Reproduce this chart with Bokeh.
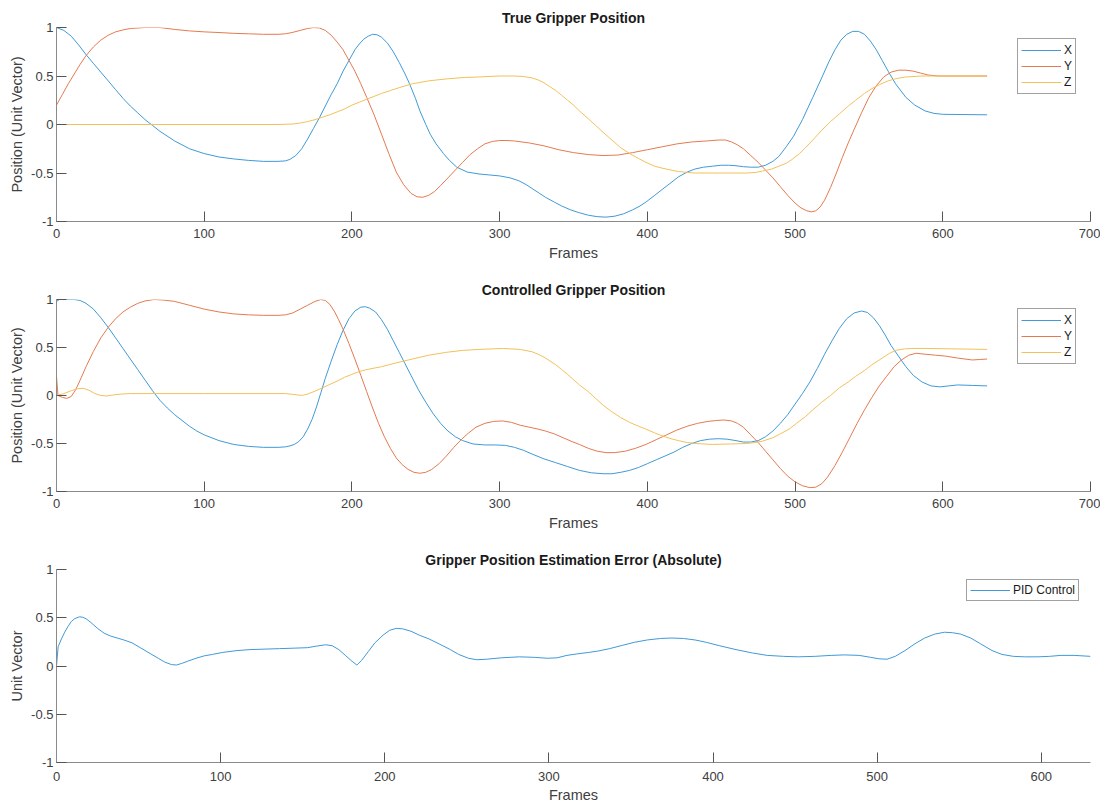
from bokeh.plotting import figure
from bokeh.layouts import column
from bokeh.models import Range1d, FixedTicker
from bokeh.embed import file_html
from bokeh.resources import INLINE

# ---------------- data: (frame, value) pairs ----------------
true_x = [(0, 1.0), (5, 0.97), (10, 0.91), (15, 0.82), (20, 0.72), (25, 0.63), (30, 0.54), (35, 0.45), (40, 0.36),
          (45, 0.27), (50, 0.19), (55, 0.12), (60, 0.05), (65, -0.01), (70, -0.07), (80, -0.17), (90, -0.25),
          (100, -0.3), (110, -0.335), (120, -0.355), (130, -0.37), (140, -0.38), (150, -0.38), (155, -0.375),
          (158, -0.36), (162, -0.32), (166, -0.25), (170, -0.15), (174, -0.04), (178, 0.07), (182, 0.19),
          (186, 0.31), (190, 0.42), (194, 0.55), (198, 0.66), (202, 0.77), (205, 0.83), (208, 0.88), (211, 0.91),
          (214, 0.93), (217, 0.925), (220, 0.9), (224, 0.84), (228, 0.75), (232, 0.64), (236, 0.52), (239, 0.42),
          (243, 0.27), (246, 0.14), (250, 0.0), (253, -0.1), (257, -0.2), (262, -0.3), (266, -0.37), (271, -0.44),
          (278, -0.49), (286, -0.51), (293, -0.52), (300, -0.53), (307, -0.55), (313, -0.58), (318, -0.62),
          (322, -0.66), (327, -0.71), (331, -0.75), (337, -0.8), (342, -0.84), (348, -0.88), (354, -0.91),
          (360, -0.935), (366, -0.95), (372, -0.955), (378, -0.945), (384, -0.92), (390, -0.88), (395, -0.84),
          (399, -0.8), (405, -0.73), (410, -0.67), (416, -0.6), (421, -0.54), (427, -0.49), (432, -0.46),
          (438, -0.44), (444, -0.43), (450, -0.42), (455, -0.42), (460, -0.425), (465, -0.435), (470, -0.44),
          (475, -0.44), (480, -0.42), (485, -0.38), (489, -0.33), (494, -0.23), (499, -0.12), (505, 0.05),
          (512, 0.28), (518, 0.48), (523, 0.65), (527, 0.77), (531, 0.87), (535, 0.93), (539, 0.96), (543, 0.96),
          (547, 0.93), (551, 0.86), (555, 0.77), (559, 0.66), (563, 0.55), (568, 0.42), (575, 0.28), (581, 0.2),
          (588, 0.14), (594, 0.115), (600, 0.105), (630, 0.1)]

true_y = [(0, 0.2), (4, 0.31), (8, 0.42), (12, 0.52), (16, 0.62), (20, 0.71), (25, 0.8), (30, 0.87), (35, 0.92),
          (40, 0.955), (45, 0.975), (50, 0.99), (60, 1.0), (70, 1.0), (80, 0.98), (90, 0.965), (100, 0.955),
          (110, 0.948), (120, 0.94), (130, 0.935), (140, 0.93), (150, 0.93), (155, 0.935), (160, 0.95), (165, 0.97),
          (170, 0.99), (174, 1.0), (178, 0.995), (182, 0.97), (186, 0.92), (190, 0.85), (194, 0.77), (198, 0.66),
          (202, 0.55), (206, 0.42), (210, 0.28), (215, 0.1), (220, -0.1), (225, -0.3), (230, -0.49), (235, -0.62),
          (240, -0.71), (244, -0.745), (248, -0.75), (252, -0.73), (256, -0.69), (260, -0.63), (265, -0.55),
          (270, -0.47), (275, -0.39), (280, -0.31), (285, -0.25), (290, -0.2), (295, -0.175), (300, -0.165),
          (305, -0.165), (310, -0.17), (320, -0.19), (330, -0.22), (340, -0.26), (350, -0.29), (360, -0.31),
          (370, -0.32), (380, -0.315), (390, -0.29), (400, -0.26), (410, -0.23), (420, -0.2), (430, -0.18),
          (440, -0.17), (448, -0.16), (453, -0.16), (457, -0.18), (461, -0.21), (465, -0.25), (470, -0.32),
          (475, -0.39), (480, -0.47), (485, -0.55), (490, -0.64), (495, -0.73), (500, -0.81), (504, -0.86),
          (508, -0.89), (511, -0.9), (514, -0.89), (517, -0.85), (520, -0.78), (524, -0.65), (528, -0.5),
          (532, -0.34), (536, -0.19), (540, -0.05), (545, 0.12), (550, 0.28), (555, 0.4), (560, 0.49), (565, 0.54),
          (570, 0.56), (575, 0.56), (580, 0.55), (585, 0.53), (590, 0.51), (597, 0.5), (630, 0.5)]

true_z = [(0, 0.0), (150, 0.0), (160, 0.005), (165, 0.015), (170, 0.03), (175, 0.05), (180, 0.075), (185, 0.1),
          (190, 0.13), (195, 0.16), (200, 0.2), (205, 0.23), (210, 0.26), (215, 0.29), (220, 0.32), (226, 0.35),
          (232, 0.38), (241, 0.42), (252, 0.45), (264, 0.47), (276, 0.485), (286, 0.49), (300, 0.5), (310, 0.5),
          (316, 0.495), (322, 0.48), (326, 0.46), (330, 0.43), (334, 0.39), (338, 0.35), (342, 0.3), (346, 0.25),
          (350, 0.2), (354, 0.14), (360, 0.06), (365, -0.01), (370, -0.08), (376, -0.16), (382, -0.24), (388, -0.3),
          (394, -0.35), (399, -0.39), (405, -0.43), (410, -0.45), (416, -0.47), (421, -0.485), (432, -0.5),
          (444, -0.5), (467, -0.5), (473, -0.495), (478, -0.48), (484, -0.46), (489, -0.43), (494, -0.4),
          (498, -0.36), (503, -0.3), (507, -0.24), (512, -0.16), (518, -0.06), (524, 0.03), (530, 0.11),
          (536, 0.19), (541, 0.25), (547, 0.32), (552, 0.37), (557, 0.41), (563, 0.45), (569, 0.475), (575, 0.49),
          (586, 0.5), (630, 0.5)]

ctrl_x = [(0, 0.98), (2, 1.0), (12, 1.0), (16, 0.99), (20, 0.96), (25, 0.9), (30, 0.81), (35, 0.71), (40, 0.6),
          (45, 0.49), (50, 0.38), (55, 0.27), (60, 0.16), (65, 0.05), (70, -0.05), (75, -0.13), (80, -0.2),
          (85, -0.26), (90, -0.32), (95, -0.37), (100, -0.41), (110, -0.47), (120, -0.51), (130, -0.53),
          (140, -0.54), (150, -0.54), (155, -0.535), (158, -0.525), (161, -0.51), (164, -0.48), (167, -0.43),
          (170, -0.35), (173, -0.25), (176, -0.12), (179, 0.03), (182, 0.18), (186, 0.36), (190, 0.53), (194, 0.68),
          (198, 0.8), (202, 0.88), (206, 0.92), (209, 0.925), (212, 0.91), (216, 0.87), (220, 0.79), (224, 0.69),
          (228, 0.57), (232, 0.45), (236, 0.33), (240, 0.21), (245, 0.06), (250, -0.07), (255, -0.19), (260, -0.29),
          (265, -0.37), (270, -0.43), (275, -0.47), (282, -0.505), (290, -0.515), (297, -0.515), (304, -0.52),
          (310, -0.54), (316, -0.57), (322, -0.61), (330, -0.66), (338, -0.7), (346, -0.74), (354, -0.78),
          (362, -0.805), (370, -0.815), (376, -0.815), (382, -0.8), (388, -0.78), (394, -0.75), (400, -0.71),
          (406, -0.67), (412, -0.63), (418, -0.59), (424, -0.54), (430, -0.5), (436, -0.47), (442, -0.455),
          (448, -0.45), (454, -0.455), (460, -0.47), (465, -0.485), (470, -0.485), (475, -0.47), (480, -0.43),
          (485, -0.37), (490, -0.29), (495, -0.2), (500, -0.09), (505, 0.02), (510, 0.14), (515, 0.28), (520, 0.43),
          (525, 0.57), (530, 0.7), (535, 0.8), (540, 0.86), (545, 0.88), (549, 0.865), (553, 0.81), (557, 0.73),
          (561, 0.63), (565, 0.52), (570, 0.41), (575, 0.3), (580, 0.21), (586, 0.14), (592, 0.1), (598, 0.09),
          (604, 0.1), (610, 0.11), (620, 0.105), (630, 0.1)]

ctrl_y = [(0, 0.2), (1, 0.0), (4, -0.02), (7, -0.03), (10, -0.01), (13, 0.06), (16, 0.16), (20, 0.3), (25, 0.46),
          (30, 0.6), (35, 0.71), (40, 0.8), (45, 0.87), (50, 0.92), (55, 0.96), (60, 0.985), (66, 1.0), (72, 0.995),
          (80, 0.98), (90, 0.94), (100, 0.9), (110, 0.87), (120, 0.85), (130, 0.84), (140, 0.835), (150, 0.835),
          (155, 0.84), (160, 0.86), (165, 0.9), (170, 0.94), (175, 0.98), (179, 1.0), (182, 0.99), (185, 0.95),
          (188, 0.88), (191, 0.79), (194, 0.69), (198, 0.54), (202, 0.38), (206, 0.21), (210, 0.04), (214, -0.13),
          (218, -0.29), (222, -0.43), (226, -0.55), (230, -0.65), (234, -0.72), (238, -0.77), (242, -0.8),
          (246, -0.81), (250, -0.8), (254, -0.77), (259, -0.71), (264, -0.63), (269, -0.54), (274, -0.46),
          (279, -0.39), (284, -0.33), (290, -0.29), (296, -0.27), (302, -0.265), (308, -0.28), (314, -0.31),
          (320, -0.33), (326, -0.35), (331, -0.37), (337, -0.4), (343, -0.44), (349, -0.48), (354, -0.51),
          (360, -0.55), (366, -0.58), (372, -0.595), (378, -0.595), (385, -0.58), (392, -0.55), (399, -0.51),
          (406, -0.46), (413, -0.41), (420, -0.36), (427, -0.32), (434, -0.29), (441, -0.27), (447, -0.26),
          (452, -0.255), (457, -0.265), (461, -0.29), (465, -0.33), (470, -0.41), (475, -0.49), (480, -0.58),
          (485, -0.67), (490, -0.76), (495, -0.84), (500, -0.9), (505, -0.94), (510, -0.96), (514, -0.955),
          (518, -0.92), (522, -0.85), (527, -0.73), (532, -0.59), (537, -0.44), (542, -0.29), (547, -0.15),
          (552, -0.02), (557, 0.1), (562, 0.2), (567, 0.3), (572, 0.37), (577, 0.42), (582, 0.44), (588, 0.43),
          (595, 0.42), (602, 0.41), (610, 0.39), (620, 0.37), (625, 0.375), (630, 0.38)]

ctrl_z = [(0, 0.0), (5, 0.02), (10, 0.05), (14, 0.07), (18, 0.075), (22, 0.055), (26, 0.02), (30, 0.0), (34, -0.005),
          (38, 0.005), (44, 0.015), (50, 0.02), (100, 0.02), (155, 0.02), (160, 0.012), (164, 0.003), (167, 0.003),
          (170, 0.015), (175, 0.045), (180, 0.08), (185, 0.115), (190, 0.15), (195, 0.19), (200, 0.22), (205, 0.25),
          (210, 0.27), (220, 0.3), (230, 0.34), (241, 0.38), (252, 0.42), (264, 0.45), (275, 0.47), (286, 0.48),
          (302, 0.49), (314, 0.48), (322, 0.455), (326, 0.43), (330, 0.4), (334, 0.36), (338, 0.32), (342, 0.27),
          (346, 0.22), (350, 0.165), (354, 0.11), (360, 0.04), (365, -0.03), (370, -0.1), (376, -0.17),
          (382, -0.23), (388, -0.28), (394, -0.32), (399, -0.35), (405, -0.39), (410, -0.42), (416, -0.45),
          (421, -0.47), (427, -0.49), (433, -0.5), (444, -0.51), (456, -0.505), (467, -0.5), (473, -0.49),
          (478, -0.475), (485, -0.44), (490, -0.4), (496, -0.35), (501, -0.29), (507, -0.22), (512, -0.15),
          (518, -0.07), (524, 0.0), (530, 0.08), (536, 0.14), (541, 0.2), (547, 0.26), (552, 0.32), (556, 0.36),
          (560, 0.4), (564, 0.44), (568, 0.47), (574, 0.485), (579, 0.49), (590, 0.49), (630, 0.48)]

pid_error = [(0, 0.0), (1, 0.2), (3, 0.28), (5, 0.35), (7, 0.41), (9, 0.46), (11, 0.49), (14, 0.51), (16, 0.505),
             (18, 0.49), (21, 0.45), (25, 0.39), (29, 0.34), (33, 0.31), (37, 0.29), (41, 0.27), (46, 0.24),
             (51, 0.19), (57, 0.13), (62, 0.08), (66, 0.04), (70, 0.015), (73, 0.01), (76, 0.025), (80, 0.05),
             (85, 0.08), (90, 0.105), (95, 0.12), (101, 0.14), (110, 0.16), (118, 0.17), (127, 0.175), (136, 0.18),
             (145, 0.185), (153, 0.19), (158, 0.205), (164, 0.22), (168, 0.21), (172, 0.17), (176, 0.11),
             (180, 0.05), (183, 0.01), (186, 0.06), (190, 0.15), (194, 0.24), (199, 0.32), (203, 0.37), (207, 0.39),
             (211, 0.385), (216, 0.36), (221, 0.32), (227, 0.28), (233, 0.23), (240, 0.17), (245, 0.12), (251, 0.08),
             (256, 0.065), (262, 0.07), (271, 0.085), (282, 0.095), (291, 0.09), (299, 0.08), (305, 0.085),
             (311, 0.11), (317, 0.125), (324, 0.14), (330, 0.155), (337, 0.18), (345, 0.215), (352, 0.245),
             (360, 0.27), (368, 0.285), (375, 0.29), (382, 0.285), (389, 0.27), (396, 0.245), (404, 0.21),
             (414, 0.17), (424, 0.135), (433, 0.11), (443, 0.1), (452, 0.095), (462, 0.1), (472, 0.11), (480, 0.115),
             (489, 0.11), (496, 0.09), (501, 0.075), (506, 0.07), (511, 0.1), (517, 0.16), (523, 0.23), (529, 0.29),
             (535, 0.33), (541, 0.35), (546, 0.345), (551, 0.33), (557, 0.29), (563, 0.23), (570, 0.16), (576, 0.12),
             (583, 0.1), (590, 0.095), (598, 0.095), (605, 0.1), (612, 0.11), (620, 0.11), (630, 0.1)]

x_ticks_long = [0, 100, 200, 300, 400, 500, 600, 700]
x_ticks_short = [0, 100, 200, 300, 400, 500, 600]
y_ticks = [-1, -0.5, 0, 0.5, 1]
y_tick_labels = ["-1", "-0.5", "0", "0.5", "1"]

titles = ["True Gripper Position", "Controlled Gripper Position", "Gripper Position Estimation Error (Absolute)"]
series_names = ["X", "Y", "Z"]
colors = ["#3f9ad6", "#e57a50", "#f1c15a"]

FONT = "Liberation Sans"


def xs(pairs):
    return [a for a, _ in pairs]


def ys(pairs):
    return [b for _, b in pairs]


def make_fig(title, x_end, xticks, ylabel, height, top, bottom, lab_standoff=7, ax_standoff=4):
    p = figure(width=1100, height=height, output_backend="svg", toolbar_location=None,
               x_range=Range1d(0, x_end), y_range=Range1d(-1, 1),
               min_border_left=56, min_border_right=10, min_border_top=top, min_border_bottom=bottom,
               background_fill_color="white", border_fill_color="white")
    p.outline_line_color = None
    p.grid.visible = False
    p.title.text = title
    p.title.align = "center"
    p.title.text_font = FONT
    p.title.text_font_size = "14px"
    p.title.text_font_style = "bold"
    p.title.text_color = "#1a1a1a"
    p.title.standoff = 3
    p.title.offset = 0
    for ax in (p.xaxis[0], p.yaxis[0]):
        ax.axis_line_color = "#8a8a8a"
        ax.axis_line_width = 1
        ax.major_tick_line_color = "#555555"
        ax.major_tick_in = 10
        ax.major_tick_out = 0
        ax.minor_tick_line_color = None
        ax.major_label_text_font = FONT
        ax.major_label_text_font_size = "13px"
        ax.major_label_text_color = "#404040"
        ax.axis_label_text_font = FONT
        ax.axis_label_text_font_size = "14.5px"
        ax.axis_label_text_font_style = "normal"
        ax.axis_label_text_color = "#404040"
    p.xaxis.ticker = FixedTicker(ticks=xticks)
    p.xaxis.axis_label = "Frames"
    p.xaxis.major_label_standoff = lab_standoff
    p.xaxis.axis_label_standoff = ax_standoff
    p.yaxis.ticker = FixedTicker(ticks=y_ticks)
    p.yaxis.major_label_overrides = {t: l for t, l in zip(y_ticks, y_tick_labels)}
    p.yaxis.axis_label = ylabel
    p.yaxis.major_label_standoff = 3
    p.yaxis.axis_label_standoff = 3
    return p


def style_legend(p, loc, row_h=16):
    lg = p.legend[0]
    lg.location = loc
    lg.border_line_color = "#444444"
    lg.border_line_width = 1
    lg.background_fill_color = "white"
    lg.background_fill_alpha = 1
    lg.label_text_font = FONT
    lg.label_text_font_size = "12px"
    lg.label_text_color = "#1a1a1a"
    lg.glyph_width = 40
    lg.glyph_height = row_h
    lg.label_height = row_h
    lg.label_width = 8
    lg.label_standoff = 3
    lg.spacing = 0
    lg.padding = 3
    lg.margin = 0


# panel 1
p1 = make_fig(titles[0], 700, x_ticks_long, "Position (Unit Vector)", 278, 27, 57)
for s, name, c in zip([true_x, true_y, true_z], series_names, colors):
    p1.line(xs(s), ys(s), line_color=c, line_width=1.0, legend_label=name)
style_legend(p1, (961, 127))

# panel 2
p2 = make_fig(titles[1], 700, x_ticks_long, "Position (Unit Vector)", 270, 19, 57)
for s, name, c in zip([ctrl_x, ctrl_y, ctrl_z], series_names, colors):
    p2.line(xs(s), ys(s), line_color=c, line_width=1.0, legend_label=name)
style_legend(p2, (961, 127))

# panel 3
p3 = make_fig(titles[2], 630, x_ticks_short, "Unit Vector", 260, 20, 46, lab_standoff=9, ax_standoff=3)
p3.line(xs(pid_error), ys(pid_error), line_color=colors[0], line_width=1.0, legend_label="PID Control")
style_legend(p3, (910, 161), row_h=14)

layout = column(p1, p2, p3, spacing=0)
open("out.html", "w").write(file_html(layout, INLINE))
